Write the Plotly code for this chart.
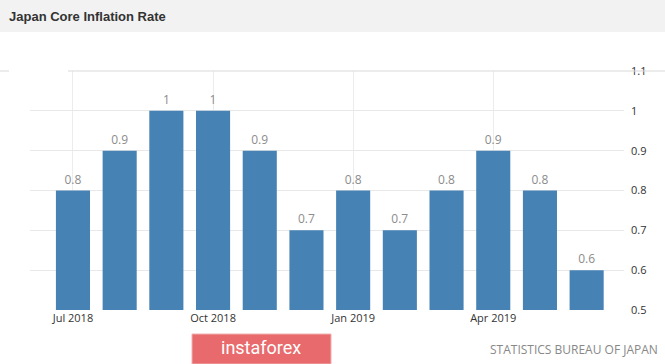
import plotly.graph_objects as go

months = ["Jul 2018", "Aug 2018", "Sep 2018", "Oct 2018", "Nov 2018", "Dec 2018",
          "Jan 2019", "Feb 2019", "Mar 2019", "Apr 2019", "May 2019", "Jun 2019"]
values = [0.8, 0.9, 1.0, 1.0, 0.9, 0.7, 0.8, 0.7, 0.8, 0.9, 0.8, 0.6]
bar_labels = ["0.8", "0.9", "1", "1", "0.9", "0.7", "0.8", "0.7", "0.8", "0.9", "0.8", "0.6"]
x_tick_idx = [0, 3, 6, 9]
x_tick_text = ["Jul 2018", "Oct 2018", "Jan 2019", "Apr 2019"]
y_ticks = [0.5, 0.6, 0.7, 0.8, 0.9, 1.0, 1.1]
y_tick_text = ["0.5", "0.6", "0.7", "0.8", "0.9", "1", "1.1"]

W, H = 665, 364
L, R, T, B = 30, 41, 71, 54

fig = go.Figure()
fig.add_trace(go.Bar(
    x=list(range(len(months))),
    y=values,
    base=0,
    width=0.73,
    marker=dict(color="#4682B4", line=dict(width=0)),
    text=bar_labels,
    textposition="outside",
    textfont=dict(family="Open Sans", size=12, color="#8c8c8c"),
    cliponaxis=False,
    hovertext=months,
))

def px_x(p):
    return (p - L) / (W - L - R)

def px_y(p):
    return 1 - (p - T) / (H - T - B)

shapes = [
    dict(type="rect", xref="paper", yref="paper", x0=px_x(0), x1=px_x(W), y0=px_y(0), y1=px_y(32),
         fillcolor="#f2f2f2", line=dict(width=0), layer="below"),
    dict(type="line", xref="paper", yref="paper", x0=px_x(68), x1=px_x(W), y0=px_y(71), y1=px_y(71),
         line=dict(color="#d9d9d9", width=1)),
    dict(type="line", xref="paper", yref="paper", x0=px_x(0), x1=px_x(9), y0=px_y(71), y1=px_y(71),
         line=dict(color="#d9d9d9", width=1)),
    dict(type="rect", xref="paper", yref="paper", x0=px_x(192), x1=px_x(331), y0=px_y(364), y1=px_y(334),
         fillcolor="#e86a6c", line=dict(color="#f0b0b0", width=1)),
]

annotations = [
    dict(text="<b>Japan Core Inflation Rate</b>", xref="paper", yref="paper", x=px_x(7), y=px_y(16),
         xanchor="left", yanchor="middle", showarrow=False,
         font=dict(family="Liberation Sans", size=13, color="#333333")),
    dict(text="instaforex", xref="paper", yref="paper", x=px_x(261), y=px_y(347),
         xanchor="center", yanchor="middle", showarrow=False,
         font=dict(family="Roboto", size=18, color="#ffffff")),
    dict(text="STATISTICS BUREAU OF JAPAN", xref="paper", yref="paper", x=px_x(660), y=px_y(349),
         xanchor="right", yanchor="middle", showarrow=False,
         font=dict(family="Open Sans", size=12, color="#888888")),
]

fig.update_layout(
    width=W, height=H,
    margin=dict(l=L, r=R, t=T, b=B),
    paper_bgcolor="#ffffff",
    plot_bgcolor="#ffffff",
    showlegend=False,
    bargap=0.27,
    shapes=shapes,
    annotations=annotations,
    xaxis=dict(
        range=[-0.92, 11.8],
        tickvals=x_tick_idx, ticktext=x_tick_text,
        showgrid=True, gridcolor="#ececec", gridwidth=1,
        zeroline=False, showline=False, ticks="",
        tickfont=dict(family="Open Sans", size=11, color="#333333"),
        fixedrange=True,
    ),
    yaxis=dict(
        range=[0.5, 1.1], side="right",
        tickvals=y_ticks, ticktext=y_tick_text,
        showgrid=True, gridcolor="#e8e8e8", gridwidth=1,
        zeroline=False, showline=False, ticks="",
        ticklabelstandoff=6,
        tickfont=dict(family="Open Sans", size=11, color="#333333"),
        fixedrange=True,
    ),
)

fig.write_html("out.html", config={"displayModeBar": False},
               post_script="document.body.style.margin='0px';document.body.style.overflow='hidden';")
